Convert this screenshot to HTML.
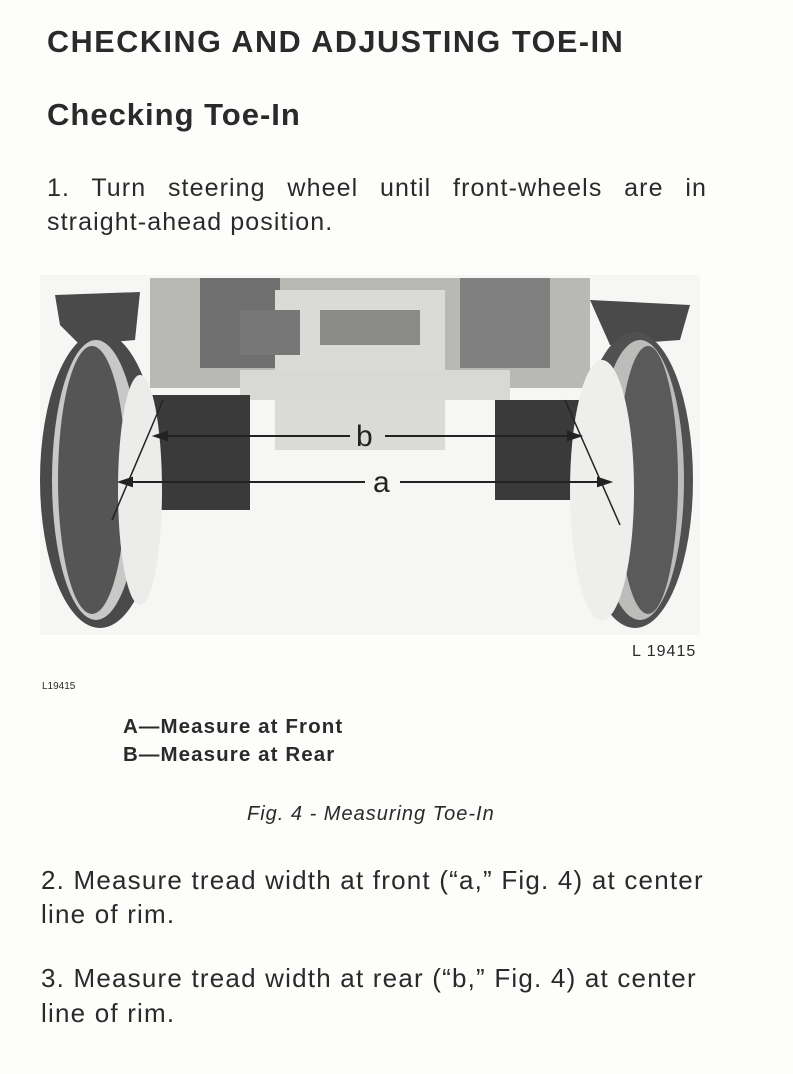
<!DOCTYPE html>
<html><head><meta charset="utf-8"><style>
body{margin:0;background:#fdfdfb;width:793px;height:1074px;overflow:hidden;position:relative;font-family:"Liberation Sans",sans-serif;color:#2a2a2a}
.t{position:absolute;white-space:nowrap}
</style></head><body>
<div class="t" style="left:47px;top:25px;font-size:30.5px;font-weight:bold;letter-spacing:1.6px">CHECKING AND ADJUSTING TOE-IN</div>
<div class="t" style="left:47px;top:97px;font-size:31px;font-weight:bold;letter-spacing:1px">Checking Toe-In</div>
<div class="t" style="left:47px;top:174px;font-size:25px;letter-spacing:1.1px;width:660px;text-align:justify;text-align-last:justify;white-space:normal">1. Turn steering wheel until front-wheels are in</div>
<div class="t" style="left:47px;top:208px;font-size:25px;letter-spacing:1.1px">straight-ahead position.</div>
<svg class="t" style="left:0;top:0" width="793" height="700">
<rect x="40" y="275" width="660" height="360" fill="#f6f6f4"/>
<!-- upper body -->
<rect x="150" y="278" width="440" height="110" fill="#b8b8b4"/>
<rect x="200" y="278" width="80" height="90" fill="#707070"/>
<rect x="460" y="278" width="90" height="90" fill="#808080"/>
<rect x="275" y="290" width="170" height="160" fill="#dadad6"/>
<rect x="240" y="310" width="60" height="45" fill="#777"/>
<rect x="320" y="310" width="100" height="35" fill="#8a8a88"/>
<rect x="240" y="370" width="270" height="30" fill="#d8d8d4"/>
<!-- fenders -->
<path d="M55 295 L140 292 L135 340 L80 345 L60 325Z" fill="#4a4a4a"/>
<path d="M590 300 L690 305 L680 340 L610 345Z" fill="#4a4a4a"/>
<!-- dark blocks -->
<rect x="150" y="395" width="100" height="115" fill="#3a3a3a"/>
<rect x="495" y="400" width="85" height="100" fill="#3a3a3a"/>
<!-- left wheel -->
<ellipse cx="100" cy="480" rx="60" ry="148" fill="#4a4a4a"/>
<ellipse cx="96" cy="480" rx="44" ry="140" fill="#c8c8c6"/>
<ellipse cx="92" cy="480" rx="34" ry="134" fill="#555"/>
<ellipse cx="140" cy="490" rx="22" ry="115" fill="#ececea"/>
<!-- right wheel -->
<ellipse cx="635" cy="480" rx="58" ry="148" fill="#505050"/>
<ellipse cx="640" cy="480" rx="44" ry="140" fill="#bcbcba"/>
<ellipse cx="648" cy="480" rx="30" ry="134" fill="#5a5a5a"/>
<ellipse cx="602" cy="490" rx="32" ry="130" fill="#eeeeec"/>
<g stroke="#222" stroke-width="2" fill="#222">
<line x1="165" y1="436" x2="350" y2="436"/><line x1="385" y1="436" x2="570" y2="436"/>
<line x1="130" y1="482" x2="365" y2="482"/><line x1="400" y1="482" x2="600" y2="482"/>
<line x1="163" y1="400" x2="112" y2="520" stroke-width="1.5"/>
<line x1="565" y1="400" x2="620" y2="525" stroke-width="1.5"/>
<path d="M155 436 l12 -4 v8z"/><path d="M580 436 l-12 -4 v8z"/>
<path d="M120 482 l12 -4 v8z"/><path d="M610 482 l-12 -4 v8z"/>
</g>
<text x="356" y="446" font-size="30" font-family="Liberation Sans" fill="#222">b</text>
<text x="373" y="492" font-size="30" font-family="Liberation Sans" fill="#222">a</text>
</svg>
<div class="t" style="left:632px;top:643px;font-size:16px;letter-spacing:1px">L 19415</div>
<div class="t" style="left:42px;top:681px;font-size:10px">L19415</div>
<div class="t" style="left:123px;top:715px;font-size:20.5px;font-weight:bold;letter-spacing:1.1px">A—Measure at Front</div>
<div class="t" style="left:123px;top:743px;font-size:20.5px;font-weight:bold;letter-spacing:1.1px">B—Measure at Rear</div>
<div class="t" style="left:247px;top:803px;font-size:20px;font-style:italic;letter-spacing:1px">Fig. 4 - Measuring Toe-In</div>
<div class="t" style="left:41px;top:865px;font-size:26px;letter-spacing:1.2px">2. Measure tread width at front (“a,” Fig. 4) at center</div>
<div class="t" style="left:41px;top:899px;font-size:26px;letter-spacing:1.2px">line of rim.</div>
<div class="t" style="left:41px;top:963px;font-size:26px;letter-spacing:1.2px">3. Measure tread width at rear (“b,” Fig. 4) at center</div>
<div class="t" style="left:41px;top:998px;font-size:26px;letter-spacing:1.2px">line of rim.</div>
</body></html>
